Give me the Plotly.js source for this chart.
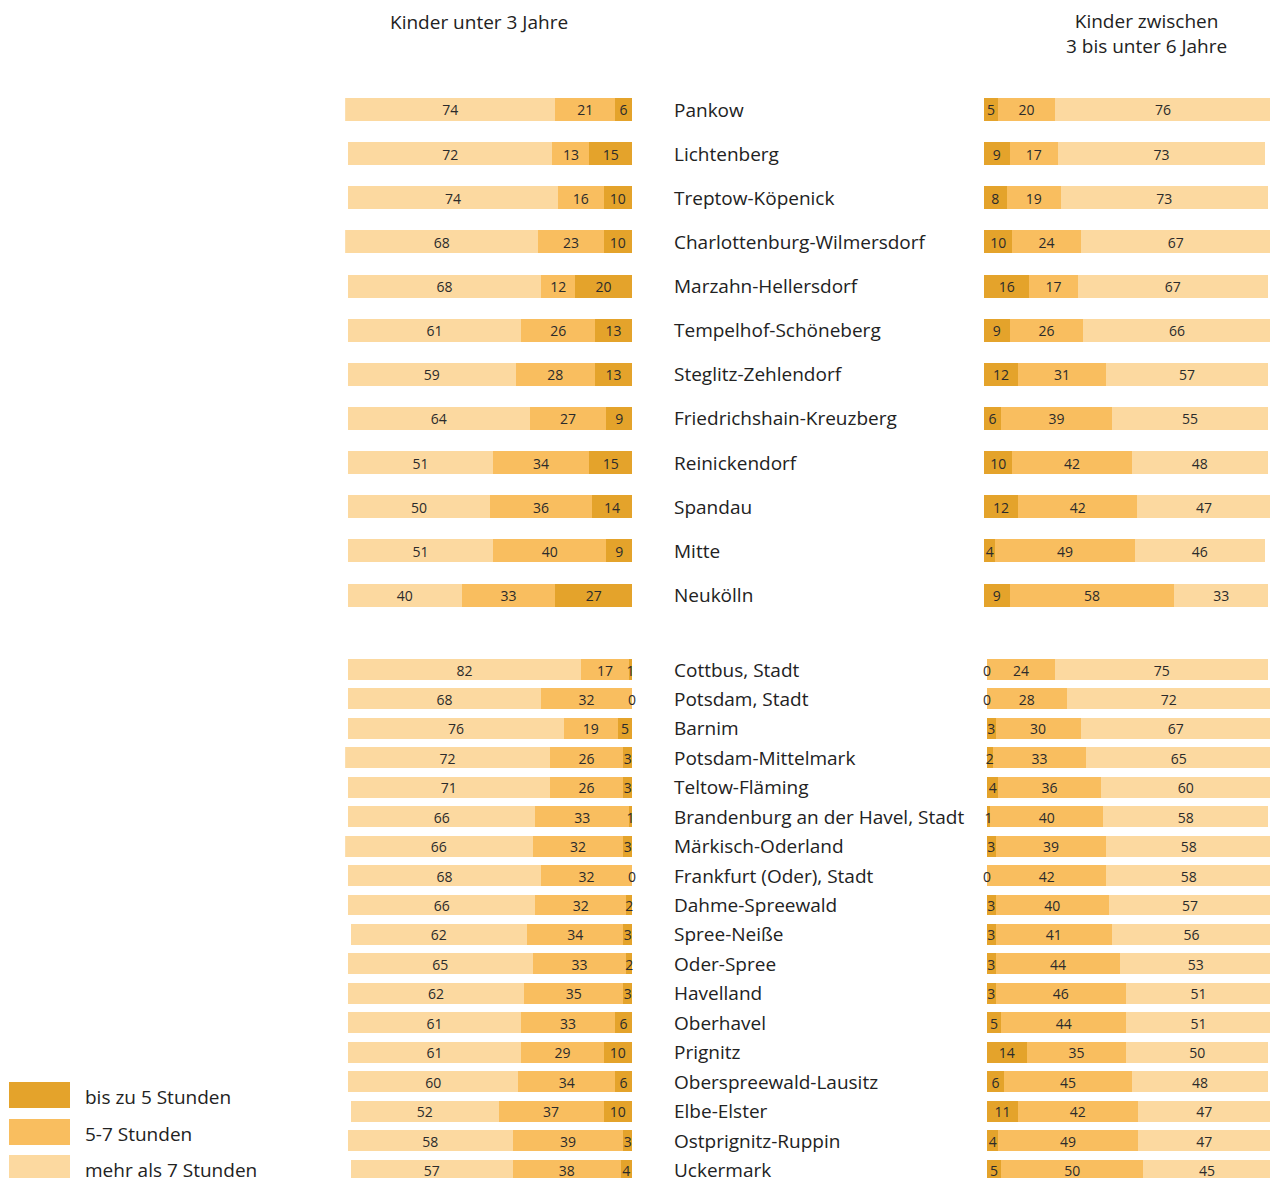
<!DOCTYPE html>
<html><head><meta charset="utf-8">
<script src="https://cdn.plot.ly/plotly-3.0.1.min.js"></script>
<style>html,body{margin:0;padding:0;background:#fff}#chart{width:1270px;height:1178px}</style>
</head><body><div id="chart"></div>
<script>
// ---- categories ----
const berlinNames = ['Pankow','Lichtenberg','Treptow-Köpenick','Charlottenburg-Wilmersdorf','Marzahn-Hellersdorf','Tempelhof-Schöneberg','Steglitz-Zehlendorf','Friedrichshain-Kreuzberg','Reinickendorf','Spandau','Mitte','Neukölln'];
const bbNames = ['Cottbus, Stadt','Potsdam, Stadt','Barnim','Potsdam-Mittelmark','Teltow-Fläming','Brandenburg an der Havel, Stadt','Märkisch-Oderland','Frankfurt (Oder), Stadt','Dahme-Spreewald','Spree-Neiße','Oder-Spree','Havelland','Oberhavel','Prignitz','Oberspreewald-Lausitz','Elbe-Elster','Ostprignitz-Ruppin','Uckermark'];

// ---- Kinder unter 3 Jahre (Berlin) ----
const berlinU3Short = [6,15,10,10,20,13,13,9,15,14,9,27];
const berlinU3Mid   = [21,13,16,23,12,26,28,27,34,36,40,33];
const berlinU3Long  = [74,72,74,68,68,61,59,64,51,50,51,40];
// ---- Kinder 3 bis unter 6 Jahre (Berlin) ----
const berlin36Short = [5,9,8,10,16,9,12,6,10,12,4,9];
const berlin36Mid   = [20,17,19,24,17,26,31,39,42,42,49,58];
const berlin36Long  = [76,73,73,67,67,66,57,55,48,47,46,33];
// ---- Kinder unter 3 Jahre (Brandenburg) ----
const bbU3Short = [1,0,5,3,3,1,3,0,2,3,2,3,6,10,6,10,3,4];
const bbU3Mid   = [17,32,19,26,26,33,32,32,32,34,33,35,33,29,34,37,39,38];
const bbU3Long  = [82,68,76,72,71,66,66,68,66,62,65,62,61,61,60,52,58,57];
// ---- Kinder 3 bis unter 6 Jahre (Brandenburg) ----
const bb36Short = [0,0,3,2,4,1,3,0,3,3,3,3,5,14,6,11,4,5];
const bb36Mid   = [24,28,30,33,36,40,39,42,40,41,44,46,44,35,45,42,49,50];
const bb36Long  = [75,72,67,65,60,58,58,58,57,56,53,51,51,50,48,47,47,45];

const seriesNames = ['bis zu 5 Stunden','5-7 Stunden','mehr als 7 Stunden'];
const colors = ['#E4A32B','#F9BE5F','#FCD9A0'];
const titleLeft = 'Kinder unter 3 Jahre';
const titleRight = 'Kinder zwischen<br>3 bis unter 6 Jahre';

const FONT = 'Open Sans, Noto Sans, sans-serif';
const W = 1270, H = 1178;
const px = v => v / W;
const py = v => 1 - v / H;

const traces = [];
function addGroup(names, short, mid, long, xa, ya, ta, width) {
  const series = [short, mid, long];
  series.forEach((vals, k) => {
    traces.push({
      type: 'bar', orientation: 'h', x: vals, y: names, xaxis: xa, yaxis: ya,
      name: seriesNames[k], marker: {color: colors[k], line: {width: 0}},
      width: width, showlegend: false, hoverinfo: 'x+y+name'
    });
  });
  // value labels at segment midpoints
  series.forEach((vals, k) => {
    const mids = vals.map((v, i) => {
      let base = 0;
      for (let j = 0; j < k; j++) base += series[j][i];
      return base + v / 2;
    });
    traces.push({
      type: 'scatter', mode: 'text', x: mids, y: names, xaxis: xa, yaxis: ta,
      text: vals.map(String), textposition: 'middle center',
      textfont: {family: FONT, size: 14, color: '#2b2b2b'},
      showlegend: false, hoverinfo: 'skip', cliponaxis: false
    });
  });
}
addGroup(berlinNames, berlinU3Short, berlinU3Mid, berlinU3Long, 'x', 'y', 'y3', 0.52);
addGroup(berlinNames, berlin36Short, berlin36Mid, berlin36Long, 'x2', 'y', 'y3', 0.52);
addGroup(bbNames, bbU3Short, bbU3Mid, bbU3Long, 'x3', 'y2', 'y4', 0.71);
addGroup(bbNames, bb36Short, bb36Mid, bb36Long, 'x4', 'y2', 'y4', 0.71);

const scale = 2.84; // px per percent
const leftZero = 632, rightZeroB = 984, rightZeroG = 987;
const leftMax = 101;
const hidden = {showgrid: false, zeroline: false, showline: false, showticklabels: false, ticks: '', fixedrange: true};
const leftDom = [px(leftZero - leftMax * scale), px(leftZero)];
const rightDomB = [px(rightZeroB), 1];
const rightDomG = [px(rightZeroG), 1];
const rightMaxB = (W - rightZeroB) / scale;
const rightMaxG = (W - rightZeroG) / scale;

// vertical layout
const bStep = 44.14, bFirst = 109.5;
const topDom = [py(bFirst + (berlinNames.length - 0.5) * bStep), py(bFirst - 0.5 * bStep)];
const gStep = 29.44, gFirst = 669.5;
const gTop = gFirst - 0.5 * gStep;
const gBottomVal = (H - gFirst) / gStep;
const botDom = [0, py(gTop)];
const tShift = 2.5 / H; // value labels sit slightly below bar centre
const topDomT = [topDom[0] - tShift, topDom[1] - tShift];
const botDomT = [0, botDom[1] - tShift];
const gBottomValT = (H - gFirst - 2.5) / gStep;

const annotations = [];
const nameFont = {family: FONT, size: 19, color: '#222'};
berlinNames.forEach((n, i) => annotations.push({xref: 'paper', x: px(672), xanchor: 'left', yref: 'y', y: i, yanchor: 'middle', text: n, showarrow: false, font: nameFont}));
bbNames.forEach((n, i) => annotations.push({xref: 'paper', x: px(672), xanchor: 'left', yref: 'y2', y: i, yanchor: 'middle', text: n, showarrow: false, font: nameFont}));
annotations.push({xref: 'paper', yref: 'paper', x: px(479), y: py(22), xanchor: 'center', yanchor: 'middle', text: titleLeft, showarrow: false, font: {family: FONT, size: 19, color: '#222'}});
annotations.push({xref: 'paper', yref: 'paper', x: px(1146), y: py(33.5), xanchor: 'center', yanchor: 'middle', text: titleRight, showarrow: false, font: {family: FONT, size: 19, color: '#222'}});

// legend (boxes + labels)
const shapes = [];
const legY = [1095, 1132, 1168];
seriesNames.forEach((n, k) => {
  shapes.push({type: 'rect', xref: 'paper', yref: 'paper', x0: px(9), x1: px(70), y0: py(legY[k] - 13), y1: py(legY[k] + 13), fillcolor: colors[k], line: {width: 0}});
  annotations.push({xref: 'paper', yref: 'paper', x: px(83), y: py(legY[k] + 2), xanchor: 'left', yanchor: 'middle', text: n, showarrow: false, font: {family: FONT, size: 19, color: '#222'}});
});

const layout = {
  width: W, height: H, margin: {l: 0, r: 0, t: 0, b: 0},
  paper_bgcolor: '#fff', plot_bgcolor: 'rgba(0,0,0,0)',
  barmode: 'stack', bargap: 0, showlegend: false,
  font: {family: FONT, color: '#222'},
  xaxis:  Object.assign({}, hidden, {domain: leftDom, range: [leftMax, 0], anchor: 'y'}),
  xaxis2: Object.assign({}, hidden, {domain: rightDomB, range: [0, rightMaxB], anchor: 'y'}),
  xaxis3: Object.assign({}, hidden, {domain: leftDom, range: [leftMax, 0], anchor: 'y2'}),
  xaxis4: Object.assign({}, hidden, {domain: rightDomG, range: [0, rightMaxG], anchor: 'y2'}),
  yaxis:  Object.assign({}, hidden, {domain: topDom, type: 'category', categoryorder: 'array', categoryarray: berlinNames, range: [berlinNames.length - 0.5, -0.5], anchor: 'x'}),
  yaxis2: Object.assign({}, hidden, {domain: botDom, type: 'category', categoryorder: 'array', categoryarray: bbNames, range: [gBottomVal, -0.5], anchor: 'x3'}),
  yaxis3: Object.assign({}, hidden, {domain: topDomT, type: 'category', categoryorder: 'array', categoryarray: berlinNames, range: [berlinNames.length - 0.5, -0.5], anchor: 'x'}),
  yaxis4: Object.assign({}, hidden, {domain: botDomT, type: 'category', categoryorder: 'array', categoryarray: bbNames, range: [gBottomValT, -0.5], anchor: 'x3'}),
  annotations: annotations, shapes: shapes
};
Plotly.newPlot('chart', traces, layout, {displayModeBar: false, staticPlot: true});
</script></body></html>
